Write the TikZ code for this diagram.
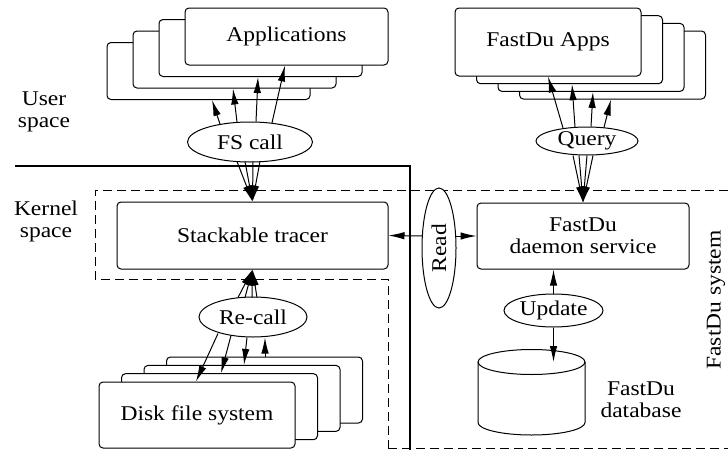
\documentclass[tikz,border=0pt]{standalone}
\usepackage{fontspec}
\setmainfont{Liberation Serif}[FakeStretch=1.12]
\usepackage{tikz}
\usetikzlibrary{arrows.meta,shapes.geometric}
\tikzset{
  box/.style={draw,rectangle,rounded corners=4pt,fill=white,line width=1pt,inner sep=0pt},
  oval/.style={draw,ellipse,fill=white,line width=1pt,inner sep=0pt},
  arr/.style={line width=1pt,-{Latex[length=16pt,width=7.5pt]}},
  bus/.style={line width=2.5pt},
  sysline/.style={line width=1pt,dash pattern=on 9pt off 5pt},
  lbl/.style={align=center,inner sep=0pt},
}

\begin{document}
\begin{tikzpicture}[x=1pt,y=-1pt,font=\fontsize{21pt}{22pt}\selectfont]
			\useasboundingbox (0,0) rectangle (728,450);

			% kernel / user boundary and the dashed system outline
			\draw[sysline] (728,190) -- (95,190) -- (95,279) -- (388,279) -- (388,450);
			\draw[sysline] (388,448) -- (728,448);
			\draw[bus] (15,166) -- (410,166) -- (410,450);

			% user space applications (back to front)
			\node[box,minimum width=203pt,minimum height=57pt] (app4) at (208.5,71) {};
			\node[box,minimum width=203pt,minimum height=57pt] (app3) at (234.5,59.5) {};
			\node[box,minimum width=203pt,minimum height=57pt] (app2) at (260.5,48) {};
			\node[box,minimum width=203pt,minimum height=57pt] (app1) at (286.5,36.5) {Applications};

			\node[box,minimum width=186pt,minimum height=68pt] (fa4) at (612.5,65) {};
			\node[box,minimum width=186pt,minimum height=68pt] (fa3) at (591,57.4) {};
			\node[box,minimum width=186pt,minimum height=68pt] (fa2) at (569.5,49.7) {};
			\node[box,minimum width=186pt,minimum height=68pt] (fa1) at (548,42) {FastDu Apps};

			\node[oval,minimum width=125pt,minimum height=40pt] (fscall) at (250,142) {FS call};
			\node[oval,minimum width=102pt,minimum height=28pt] (query) at (587,141) {Query};

			% kernel side
			\node[box,minimum width=271pt,minimum height=67pt] (tracer) at (252.5,235.5) {Stackable tracer};
			\node[box,minimum width=212pt,minimum height=66pt,align=center] (daemon) at (583,236) {FastDu\\daemon service};
			\node[oval,rotate=90,minimum width=120pt,minimum height=34pt] (read) at (439,248) {Read};
			\node[oval,minimum width=108pt,minimum height=40pt] (recall) at (253,317) {Re-call};
			\node[oval,minimum width=99pt,minimum height=33pt] (update) at (553.5,310.5) {Update};

			\node[box,minimum width=196pt,minimum height=66pt] (disk4) at (264.5,390) {};
			\node[box,minimum width=196pt,minimum height=66pt] (disk3) at (242,398.4) {};
			\node[box,minimum width=196pt,minimum height=66pt] (disk2) at (219.5,406.7) {};
			\node[box,minimum width=196pt,minimum height=66pt] (disk1) at (197,415) {Disk file system};

			% database cylinder
			\draw[line width=1pt] (478,362) -- (478,422.5) arc[start angle=180,end angle=0,x radius=53.5,y radius=12.5] -- (585,362);
			\draw[line width=1pt] (531.5,362) ellipse [x radius=53.5,y radius=12.5];
			\coordinate (dbtop) at (553.5,362);

			% labels
			\node[lbl] (user) at (44,112) {User\\space};
			\node[lbl] (kernel) at (46,221) {Kernel\\space};
			\node[lbl] (dbname) at (641,400) {FastDu\\database};
			\node[lbl,rotate=90] (fdsys) at (716,300) {FastDu system};

			% FS call
			\draw[arr] ([shift={(-30,2.5)}]fscall.north) -- ([shift={(3.5,0)}]app4.south);
			\draw[arr] ([shift={(-13,0.5)}]fscall.north) -- ([shift={(-1.5,0)}]app3.south);
			\draw[arr] ([shift={(6,0)}]fscall.north) -- ([shift={(-2.5,0)}]app2.south);
			\draw[arr] ([shift={(22,1.3)}]fscall.north) -- ([shift={(-1.5,0)}]app1.south);
			\foreach \dx in {-13,-5,3,10}
				\draw[arr] ([shift={(\dx,-1)}]fscall.south) -- (tracer.north);

			% Query
			\draw[arr] ([shift={(-24,1.5)}]query.north) -- (fa1.south);
			\draw[arr] ([shift={(-12,0.5)}]query.north) -- ([shift={(2.5,0)}]fa2.south);
			\draw[arr] ([shift={(4,0)}]query.north) -- ([shift={(2,0)}]fa3.south);
			\draw[arr] ([shift={(17,1)}]query.north) -- ([shift={(-1.5,0)}]fa4.south);
			\foreach \dx in {-14,-8,0,6}
				\draw[arr] ([shift={(\dx,0)}]query.south) -- (daemon.north);

			% Re-call
			\foreach \dx in {-15,-8,-1,4}
				\draw[arr] ([shift={(\dx,1)}]recall.north) -- (tracer.south);
			\draw[arr] ([shift={(-35,-4)}]recall.south) -- ([shift={(-1,0)}]disk1.north);
			\draw[arr] ([shift={(-22,-2)}]recall.south) -- ([shift={(1.5,0)}]disk2.north);
			\draw[arr] ([shift={(-6,0)}]recall.south) -- ([shift={(2,0)}]disk3.north);
			\draw[arr] ([shift={(0.5,0)}]disk4.north) -- ([shift={(12,0)}]recall.south);

			% Read and Update
			\draw[arr] ([shift={(-16.7,-12)}]read.center) -- (tracer.east);
			\draw[arr] ([shift={(16.7,-12)}]read.center) -- (daemon.west);
			\draw[arr] (update.north) -- ([shift={(-29.5,0)}]daemon.south);
			\draw[arr] (update.south) -- (dbtop);
		\end{tikzpicture}
\end{document}
